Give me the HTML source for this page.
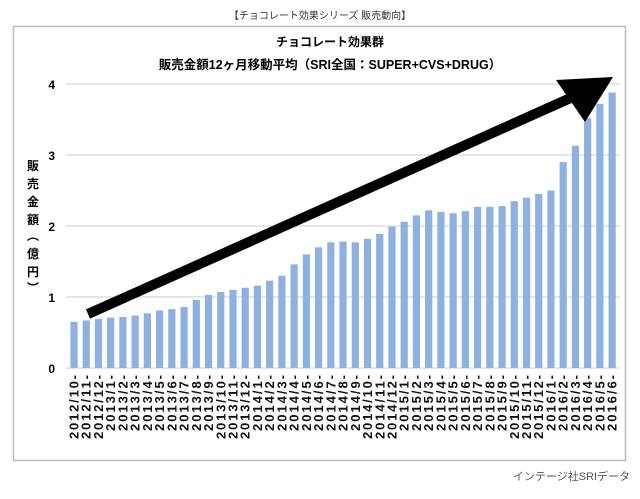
<!DOCTYPE html>
<html><head><meta charset="utf-8"><style>
body{margin:0;background:#fff}
svg text{font-family:"Liberation Sans","Noto Sans CJK JP",sans-serif}
</style></head><body>
<svg width="640" height="494" viewBox="0 0 640 494" xmlns="http://www.w3.org/2000/svg">
<text x="320" y="19" font-size="10" text-anchor="middle" fill="#333">【チョコレート効果シリーズ 販売動向】</text>
<rect x="13.5" y="26.5" width="612" height="434" fill="#fff" stroke="#bbb" stroke-width="1.5"/>
<text x="330" y="46" font-size="12" font-weight="bold" text-anchor="middle">チョコレート効果群</text>
<text x="330" y="69" font-size="12.5" font-weight="bold" text-anchor="middle">販売金額12ヶ月移動平均（SRI全国：SUPER+CVS+DRUG）</text>
<g stroke="#ccc" stroke-width="1">
<line x1="66" y1="84" x2="620" y2="84"/><line x1="66" y1="155" x2="620" y2="155"/><line x1="66" y1="226" x2="620" y2="226"/><line x1="66" y1="297" x2="620" y2="297"/><line x1="66" y1="368" x2="620" y2="368"/>
</g>
<g font-size="12" font-weight="bold" text-anchor="end">
<text x="55" y="89">4</text><text x="55" y="160">3</text><text x="55" y="231">2</text><text x="55" y="302">1</text><text x="55" y="373">0</text>
</g>
<g font-size="12" font-weight="bold" text-anchor="middle">
<text x="33" y="170">販</text><text x="33" y="188">売</text><text x="33" y="206">金</text><text x="33" y="224">額</text><text x="33" y="240">︵</text><text x="33" y="258">億</text><text x="33" y="276">円</text><text x="33" y="292">︶</text>
</g>
<g id="bars" fill="#8fb1e0"></g>
<g id="labels" font-size="13" font-weight="bold" fill="#111"></g>
<line x1="88" y1="314" x2="575" y2="96" stroke="#000" stroke-width="10"/>
<polygon points="613,77 556,80 585,122" fill="#000"/>
<text x="630" y="480" font-size="11" text-anchor="end" fill="#555">インテージ社SRIデータ</text>
</svg>
<script>
var v=[0.65,0.67,0.69,0.71,0.72,0.74,0.77,0.81,0.83,0.86,0.96,1.03,1.07,1.10,1.13,1.16,1.23,1.30,1.46,1.60,1.70,1.77,1.78,1.77,1.82,1.89,1.99,2.06,2.15,2.22,2.20,2.18,2.21,2.27,2.27,2.28,2.35,2.40,2.45,2.50,2.90,3.13,3.52,3.72,3.88];
var b=document.getElementById('bars'),l=document.getElementById('labels'),ns='http://www.w3.org/2000/svg';
var y=2012,m=10;
for(var i=0;i<v.length;i++){var cx=74+i*12.23;var h=v[i]*71;
var r=document.createElementNS(ns,'rect');r.setAttribute('x',cx-3.6);r.setAttribute('y',368-h);r.setAttribute('width',7.2);r.setAttribute('height',h);b.appendChild(r);
var t=document.createElementNS(ns,'text');t.setAttribute('transform','translate('+(cx+4.5)+',375) rotate(-90)');t.setAttribute('text-anchor','end');var s=y+'/'+m+'-';t.textContent=s;if(s.length==8)t.setAttribute('textLength','64');else t.setAttribute('textLength','56');l.appendChild(t);
m++;if(m>12){m=1;y++;}}
</script>
</body></html>
